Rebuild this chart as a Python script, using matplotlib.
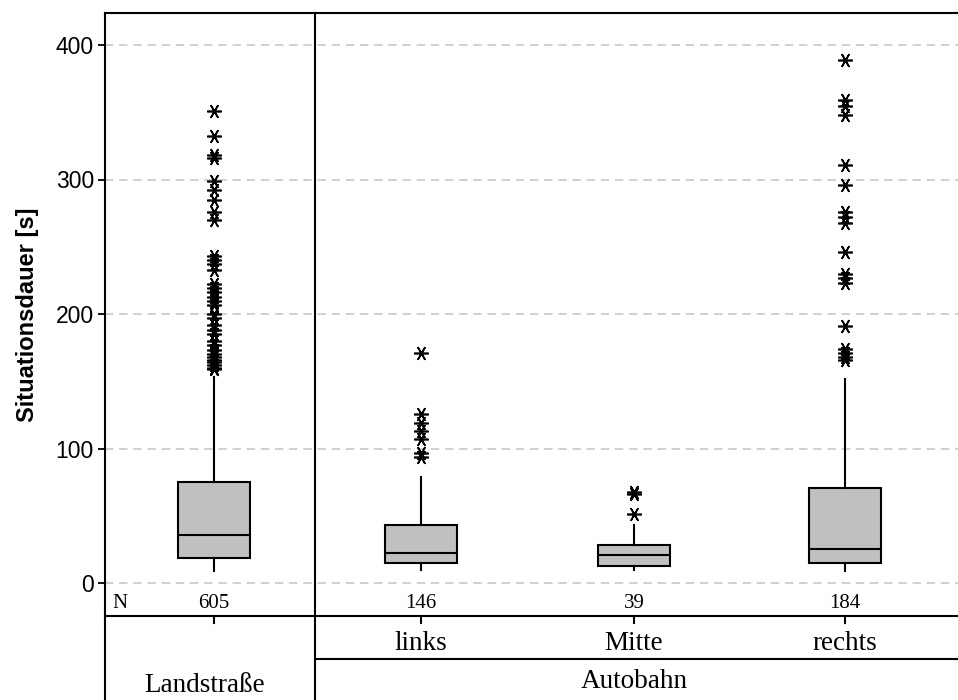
import matplotlib
matplotlib.use("Agg")
import matplotlib.pyplot as plt
from matplotlib.lines import Line2D

# ---- data ----
groups = ["Landstraße", "links", "Mitte", "rechts"]
n_values = [605, 146, 39, 184]
whislo = [9, 10, 10, 9]
q1 = [18.5, 15, 13, 15]
med = [36, 22, 21, 25]
q3 = [75, 43, 28, 71]
whishi = [153, 79, 43, 152]
outliers_land = [351, 332, 318, 316, 299, 292, 285, 276, 270, 243, 240, 237, 233,
                 222, 219, 216, 213, 210, 207, 200, 197, 192, 188, 185, 180, 177,
                 173, 170, 168, 166, 164, 162, 160, 159]
outliers_links = [171, 126, 119, 113, 107, 97, 94]
outliers_mitte = [68, 66, 51]
outliers_rechts = [389, 359, 355, 348, 311, 296, 276, 272, 268, 246, 230, 227,
                   223, 191, 174, 171, 168, 166]
fliers = [outliers_land, outliers_links, outliers_mitte, outliers_rechts]
yticks = [0, 100, 200, 300, 400]
ylabel = "Situationsdauer [s]"
sub_labels = ["links", "Mitte", "rechts"]
top_labels = ["Landstraße", "Autobahn"]

W, H = 958, 700
fig = plt.figure(figsize=(W / 100, H / 100), dpi=100)

def fx(px):
    return px / W

def fy(py):
    return 1 - py / H

ax_left, ax_right, ax_top, ax_bot = 105, 958, 13, 616
ax = fig.add_axes([fx(ax_left), fy(ax_bot), fx(ax_right) - fx(ax_left), fy(ax_top) - fy(ax_bot)])

positions = [214, 421, 634, 845]
ax.set_xlim(ax_left, ax_right)
y0, ppu = 583, 538 / 400
ax.set_ylim((y0 - ax_bot) / ppu, (y0 - ax_top) / ppu)

for yv in yticks:
    ax.axhline(yv, color="#c8c8c8", lw=1.2, ls=(0, (5, 3.5)), zorder=0)

stats = []
for i in range(len(groups)):
    stats.append(dict(med=med[i], q1=q1[i], q3=q3[i], whislo=whislo[i],
                      whishi=whishi[i], fliers=fliers[i], label=groups[i]))

ax.bxp(stats, positions=positions, widths=72, patch_artist=True,
       showcaps=False,
       boxprops=dict(facecolor="#c0c0c0", edgecolor="black", linewidth=1.5),
       medianprops=dict(color="black", linewidth=1.5),
       whiskerprops=dict(color="black", linewidth=1.5),
       flierprops=dict(marker=(6, 2, 90), markersize=10.5, markeredgecolor="black",
                       markeredgewidth=1.2, linestyle="none"),
       manage_ticks=False, zorder=3)

# N row
ax.text(120, (y0 - 603) / ppu, "N", family="Liberation Serif", fontsize=15,
        ha="center", va="center")
for p, n in zip(positions, n_values):
    ax.text(p, (y0 - 603) / ppu, str(n), family="Liberation Serif", fontsize=15,
            ha="center", va="center")

ax.set_yticks(yticks)
ax.set_yticklabels([str(v) for v in yticks], family="Liberation Sans", fontsize=16.5)
ax.tick_params(axis="y", direction="out", length=5, width=1.3, pad=3)
ax.set_xticks([])
ax.spines["right"].set_visible(False)
for s in ["left", "top", "bottom"]:
    ax.spines[s].set_linewidth(1.5)
ax.set_ylabel(ylabel, family="Liberation Sans", fontsize=17, fontweight="bold", labelpad=12)

ax.axvline(315, color="black", lw=1.5, zorder=4)

def fline(xs, ys):
    fig.add_artist(Line2D([fx(x) for x in xs], [fy(y) for y in ys],
                          color="black", lw=1.5, transform=fig.transFigure))

fline([ax_left, ax_left], [ax_bot, H])
fline([315, 315], [ax_bot, H])
fline([315, 958], [659, 659])
for p in positions:
    fline([p, p], [ax_bot, 623])

for p, lab in zip(positions[1:], sub_labels):
    fig.text(fx(p), fy(643), lab, family="Liberation Serif", fontsize=19.5,
             ha="center", va="center")
fig.text(fx(634), fy(682), top_labels[1], family="Liberation Serif", fontsize=19.5,
         ha="center", va="center")
fig.text(fx(205), fy(698), top_labels[0], family="Liberation Serif", fontsize=19.5,
         ha="center", va="bottom")

fig.savefig("out.png", dpi=100)
